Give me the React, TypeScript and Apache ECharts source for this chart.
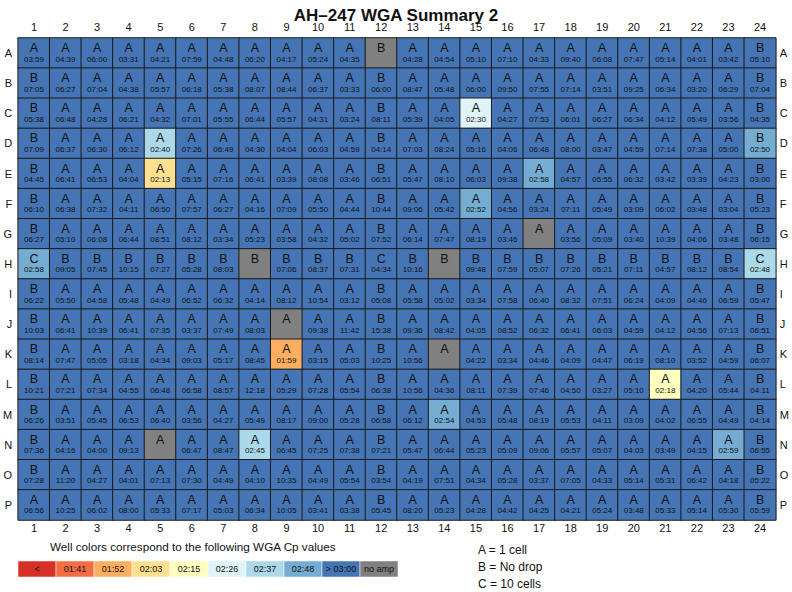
import React, { useEffect, useRef } from "react";
import * as echarts from "echarts";

const rowLabels = ["A", "B", "C", "D", "E", "F", "G", "H", "I", "J", "K", "L", "M", "N", "O", "P"];
const colLabels = ["1", "2", "3", "4", "5", "6", "7", "8", "9", "10", "11", "12", "13", "14", "15", "16", "17", "18", "19", "20", "21", "22", "23", "24"];

// sample type per well (A = 1 cell, B = No drop, C = 10 cells)
const sampleTypes = [
  "AAAAAAAAAAABAAAAAAAAAAAB",
  "BAAAAAAAAAABAAAAAAAAAAAB",
  "BAAAAAAAAAABAAAAAAAAAAAB",
  "BAAAAAAAAAABAAAAAAAAAAAB",
  "BAAAAAAAAAABAAAAAAAAAAAB",
  "BAAAAAAAAAABAAAAAAAAAAAB",
  "BAAAAAAAAAABAAAAAAAAAAAB",
  "CBBBBBBBBBBCBBBBBBBBBBBC",
  "BAAAAAAAAAABAAAAAAAAAAAB",
  "BAAAAAAAAAABAAAAAAAAAAAB",
  "BAAAAAAAAAABAAAAAAAAAAAB",
  "BAAAAAAAAAABAAAAAAAAAAAB",
  "BAAAAAAAAAABAAAAAAAAAAAB",
  "BAAAAAAAAAABAAAAAAAAAAAB",
  "BAAAAAAAAAABAAAAAAAAAAAB",
  "AAAAAAAAAAABAAAAAAAAAAAB",
];

// WGA Cp values (mm:ss); "" = no amp
const cpA = ["03:59","04:39","06:00","03:31","04:21","07:59","04:48","06:20","04:17","05:24","04:35","","04:28","04:54","05:10","07:10","04:33","09:40","06:08","07:47","05:14","04:01","03:42","05:10"];
const cpB = ["07:05","06:27","07:04","04:38","05:57","06:18","05:38","08:07","08:44","06:37","03:33","06:00","08:47","05:48","06:00","09:50","07:55","07:14","03:51","09:25","06:34","03:20","06:29","07:04"];
const cpC = ["05:38","06:48","04:28","06:21","04:32","07:01","05:55","06:44","05:57","04:31","03:24","08:11","05:39","04:05","02:30","04:27","07:53","06:01","06:27","06:34","04:12","05:49","03:56","04:35"];
const cpD = ["07:09","06:37","06:30","06:12","02:40","07:26","06:49","04:30","04:04","06:03","04:59","04:14","07:03","08:24","05:16","04:06","06:48","08:00","03:47","04:59","07:14","07:38","05:00","02:50"];
const cpE = ["04:45","06:41","06:53","04:04","02:13","05:15","07:16","06:41","03:39","08:08","03:46","06:51","05:47","08:10","06:03","09:38","02:58","04:57","05:55","06:32","03:42","03:39","04:23","03:00"];
const cpF = ["06:10","06:38","07:32","04:11","06:50","07:57","06:27","04:16","07:09","05:50","04:44","10:44","09:06","05:42","02:52","04:56","03:24","07:11","05:49","03:09","06:02","03:48","03:04","05:23"];
const cpG = ["06:27","05:10","06:08","06:44","08:51","08:12","03:34","05:23","03:58","04:32","05:02","07:52","06:14","07:47","08:19","03:46","","03:56","05:09","03:40","10:39","04:06","03:48","06:15"];
const cpH = ["02:58","09:05","07:45","10:15","07:27","05:28","08:03","","07:06","08:37","07:31","04:34","10:16","","09:48","07:59","05:07","07:26","05:21","07:11","04:57","08:12","08:54","02:48"];
const cpI = ["06:22","05:50","04:58","05:48","04:49","06:52","06:32","04:14","08:12","10:54","03:12","05:08","05:58","05:02","03:34","07:58","06:40","08:32","07:51","06:24","04:09","04:46","06:59","05:47"];
const cpJ = ["10:03","06:41","10:39","06:41","07:35","03:37","07:49","08:03","","09:38","11:42","15:38","09:36","08:42","04:05","08:52","06:32","06:41","06:03","04:59","04:12","04:56","07:13","06:51"];
const cpK = ["08:14","07:47","05:05","03:18","04:34","09:03","05:17","08:45","01:59","03:15","05:03","10:25","10:56","","04:22","03:34","04:46","04:09","04:47","06:19","08:10","03:52","04:59","06:07"];
const cpL = ["10:21","07:21","07:34","04:55","06:48","06:58","08:57","12:18","05:29","07:28","05:54","06:38","10:56","04:36","08:11","07:39","07:46","04:50","03:27","05:10","02:18","04:20","05:44","04:11"];
const cpM = ["06:26","03:51","05:45","06:53","06:40","03:56","04:27","05:49","08:17","09:00","05:28","06:58","06:12","02:54","04:53","05:48","08:19","05:53","04:11","03:09","04:02","06:55","04:49","04:14"];
const cpN = ["07:36","04:16","04:00","09:13","","06:47","08:47","02:45","06:45","07:25","07:38","07:21","05:47","06:44","05:23","05:09","09:06","05:57","05:07","04:03","03:49","04:15","02:59","06:55"];
const cpO = ["07:28","11:20","04:27","04:01","07:13","07:30","04:49","04:10","10:35","04:49","05:54","03:54","04:19","07:51","04:34","05:28","03:37","07:05","04:33","05:14","05:31","06:42","04:18","05:22"];
const cpP = ["06:56","10:25","06:02","08:00","05:33","07:17","05:03","06:34","10:05","03:41","03:38","05:45","08:20","05:23","04:28","04:42","04:25","04:21","05:24","03:48","05:33","05:14","05:30","05:59"];
const cpRows = [cpA, cpB, cpC, cpD, cpE, cpF, cpG, cpH, cpI, cpJ, cpK, cpL, cpM, cpN, cpO, cpP];

const legendLabels = ["<", "01:41", "01:52", "02:03", "02:15", "02:26", "02:37", "02:48", "> 03:00", "no amp"];
const legendColors = ["#d73027", "#f46d43", "#fdae61", "#fee090", "#ffffbf", "#e0f3f8", "#abd9e9", "#74add1", "#4575b4", "#808080"];
const keyLines = ["A = 1 cell", "B = No drop", "C = 10 cells"];

const FONT = "Liberation Sans, Arial, Helvetica, sans-serif";

function toSec(t: string): number {
  if (!t) return -1;
  const [m, s] = t.split(":").map(Number);
  return m * 60 + s;
}

export default function App() {
  const ref = useRef<HTMLDivElement>(null);
  useEffect(() => {
    if (!ref.current) return;
    const chart = echarts.init(ref.current, undefined, { renderer: "svg" });
    const data: any[] = [];
    rowLabels.forEach((r, ri) => {
      colLabels.forEach((c, ci) => {
        const t = cpRows[ri][ci];
        data.push({ value: [ci, ri, toSec(t)], letter: sampleTypes[ri][ci], time: t });
      });
    });

    const boxX0 = 18, boxW = 38, boxY = 561, boxH = 16;
    const legendGraphics: any[] = [];
    legendLabels.forEach((lab, i) => {
      legendGraphics.push({
        type: "rect",
        shape: { x: boxX0 + i * boxW, y: boxY, width: boxW, height: boxH },
        style: { fill: legendColors[i], stroke: "#ffffff", lineWidth: 0.5 },
      });
      legendGraphics.push({
        type: "text",
        x: boxX0 + i * boxW + boxW / 2,
        y: boxY + boxH / 2,
        style: { text: lab, fontSize: 9, fontFamily: FONT, fill: "#111", align: "center", verticalAlign: "middle" },
      });
    });
    legendGraphics.push({
      type: "text",
      x: 50,
      y: 546,
      style: { text: "Well colors correspond to the following WGA Cp values", fontSize: 11.7, fontFamily: FONT, fill: "#111", verticalAlign: "middle" },
    });
    keyLines.forEach((k, i) => {
      legendGraphics.push({
        type: "text",
        x: 478,
        y: 550 + i * 17,
        style: { text: k, fontSize: 12, fontFamily: FONT, fill: "#111", verticalAlign: "middle" },
      });
    });

    const axisLabel = { color: "#111", fontSize: 11, fontFamily: FONT };
    chart.setOption({
      animation: false,
      title: {
        text: "AH\u2013247 WGA Summary 2",
        left: "center",
        top: 2,
        textStyle: { fontSize: 17, fontWeight: "bold", fontFamily: FONT, color: "#111" },
      },
      grid: { left: 18, right: 11, top: 38, bottom: 72 },
      xAxis: [
        { type: "category", data: colLabels, position: "top", axisLine: { show: false }, axisTick: { show: false }, splitLine: { show: false }, axisLabel: { ...axisLabel, margin: 6 } },
        { type: "category", data: colLabels, position: "bottom", axisLine: { show: false }, axisTick: { show: false }, splitLine: { show: false }, axisLabel: { ...axisLabel, margin: 2 } },
      ],
      yAxis: [
        { type: "category", data: rowLabels, inverse: true, position: "left", axisLine: { show: false }, axisTick: { show: false }, axisLabel: { ...axisLabel, margin: 6 } },
        { type: "category", data: rowLabels, inverse: true, position: "right", axisLine: { show: false }, axisTick: { show: false }, axisLabel: { ...axisLabel, margin: 4 } },
      ],
      visualMap: {
        type: "piecewise",
        show: false,
        dimension: 2,
        seriesIndex: 0,
        pieces: [
          { lt: 0, color: legendColors[9] },
          { gte: 0, lt: 101, color: legendColors[0] },
          { gte: 101, lt: 112, color: legendColors[1] },
          { gte: 112, lt: 123, color: legendColors[2] },
          { gte: 123, lt: 135, color: legendColors[3] },
          { gte: 135, lt: 146, color: legendColors[4] },
          { gte: 146, lt: 157, color: legendColors[5] },
          { gte: 157, lte: 168, color: legendColors[6] },
          { gt: 168, lt: 180, color: legendColors[7] },
          { gte: 180, color: legendColors[8] },
        ],
      },
      series: [
        {
          type: "heatmap",
          xAxisIndex: 0,
          yAxisIndex: 0,
          data,
          itemStyle: { borderColor: "#1a1a1a", borderWidth: 1 },
          emphasis: { disabled: true },
          label: {
            show: true,
            fontFamily: FONT,
            formatter: (p: any) => `{l|${p.data.letter}}\n{t|${p.data.time || " "}}`,
            rich: {
              l: { fontSize: 12.5, lineHeight: 12, color: "#111", fontFamily: FONT },
              t: { fontSize: 8, lineHeight: 10, color: "#111", fontFamily: FONT },
            },
          },
        },
      ],
      graphic: legendGraphics,
    });
    return () => chart.dispose();
  }, []);
  return <div ref={ref} style={{ position: "fixed", left: 0, top: 0, width: 792, height: 592, background: "#fff" }} />;
}
